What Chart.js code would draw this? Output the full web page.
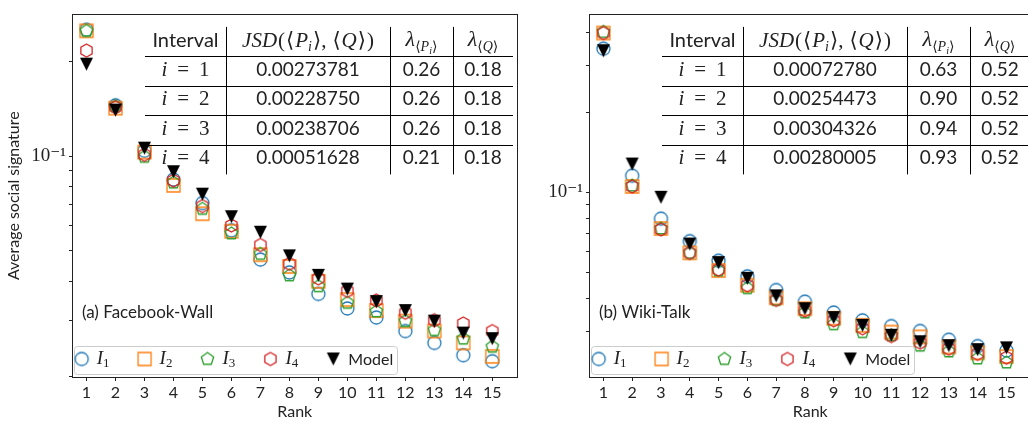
<!DOCTYPE html>
<html><head><meta charset="utf-8">
<script src="https://cdn.jsdelivr.net/npm/chart.js@4/dist/chart.umd.min.js"></script>
<style>
html,body{margin:0;padding:0;background:#fff;overflow:hidden;width:1028px;height:421px;}
#wrap{position:relative;width:1028px;height:421px;overflow:hidden;}
canvas{position:absolute;top:0;}
#c1{left:0;}
#c2{left:520px;}
</style></head><body>
<div id="wrap">
<canvas id="c1" width="525" height="421"></canvas>
<canvas id="c2" width="519" height="421"></canvas>
</div>
<script>
// ---------- data ----------
const ranks = [1,2,3,4,5,6,7,8,9,10,11,12,13,14,15];
const seriesNames = ['I_1','I_2','I_3','I_4','Model'];

// (a) Facebook-Wall
const fbI1    = [0.252,0.145,0.104,0.0842,0.0709,0.0581,0.0469,0.0427,0.0365,0.0328,0.0307,0.0278,0.0255,0.0233,0.0223];
const fbI2    = [0.250,0.142,0.103,0.0807,0.0656,0.0577,0.0486,0.0446,0.0400,0.0350,0.0323,0.0299,0.0278,0.0255,0.0231];
const fbI3    = [0.250,0.144,0.0995,0.0824,0.0680,0.0568,0.0489,0.0418,0.0386,0.0342,0.0321,0.0299,0.0280,0.0263,0.0248];
const fbI4    = [0.2165,0.143,0.101,0.0836,0.0694,0.0602,0.0522,0.0455,0.0409,0.0373,0.0348,0.0318,0.0301,0.0294,0.0278];
const fbModel = [0.196,0.140,0.106,0.0892,0.0757,0.0642,0.0573,0.0482,0.0418,0.0378,0.0345,0.0323,0.0299,0.0274,0.0263];

// (b) Wiki-Talk
const wkI1    = [0.347,0.1155,0.0796,0.0655,0.0553,0.0483,0.0429,0.0388,0.0353,0.0330,0.0314,0.0301,0.0279,0.0264,0.0254];
const wkI2    = [0.3975,0.1052,0.0731,0.0592,0.0508,0.0447,0.0401,0.0365,0.0336,0.0316,0.0298,0.0286,0.0262,0.0249,0.0241];
const wkI3    = [0.401,0.106,0.0731,0.0592,0.0508,0.0436,0.0394,0.0353,0.0319,0.0298,0.0290,0.0265,0.0252,0.0237,0.0229];
const wkI4    = [0.3975,0.1052,0.0725,0.0592,0.0512,0.0447,0.0394,0.0359,0.0330,0.0308,0.0288,0.0272,0.0258,0.0247,0.0239];
const wkModel = [0.341,0.1278,0.0958,0.0639,0.0544,0.0475,0.0408,0.0365,0.0338,0.0316,0.0290,0.0274,0.0265,0.0256,0.0260];

// tables
const intervals = [1,2,3,4];
const fbJSD     = ['0.00273781','0.00228750','0.00238706','0.00051628'];
const fbLambdaP = ['0.26','0.26','0.26','0.21'];
const fbLambdaQ = ['0.18','0.18','0.18','0.18'];
const wkJSD     = ['0.00072780','0.00254473','0.00304326','0.00280005'];
const wkLambdaP = ['0.63','0.90','0.94','0.93'];
const wkLambdaQ = ['0.52','0.52','0.52','0.52'];

// ticks
const xTicks   = [1,2,3,4,5,6,7,8,9,10,11,12,13,14,15];
const fbYTicks = [0.02,0.03,0.04,0.05,0.06,0.07,0.08,0.09,0.1,0.2];
const wkYTicks = [0.03,0.04,0.05,0.06,0.07,0.08,0.09,0.1,0.2,0.3,0.4];
const yLabelled = {0.1: '10\u207B\u00B9'};

// ---------- styles ----------
const SANS  = 'Lato, "Open Sans", sans-serif';
const SERIF = '"Liberation Serif", "DejaVu Serif", serif';
const INK = '#222';
const markerKinds  = ['circle','square','pent','hex','tri'];
const markerColors = ['#1f77b4','#ff7f0e','#2ca02c','#d62728','#000000'];

function makeMarker(kind, color) {
  const S = 17, c = document.createElement('canvas');
  c.width = S; c.height = S;
  const g = c.getContext('2d');
  const r = 6.5, cx = S/2, cy = S/2;
  g.lineWidth = 1.3; g.strokeStyle = color; g.fillStyle = color;
  g.beginPath();
  if (kind === 'circle') g.arc(cx, cy, r, 0, Math.PI*2);
  else if (kind === 'square') g.rect(cx-r, cy-r, 2*r, 2*r);
  else if (kind === 'tri') { g.moveTo(cx, cy+r); g.lineTo(cx-r, cy-r); g.lineTo(cx+r, cy-r); g.closePath(); }
  else {
    const n = kind === 'pent' ? 5 : 6;
    for (let i = 0; i < n; i++) {
      const ang = -Math.PI/2 + i*2*Math.PI/n;
      const px = cx + r*Math.cos(ang), py = cy + r*Math.sin(ang);
      if (i === 0) g.moveTo(px, py); else g.lineTo(px, py);
    }
    g.closePath();
  }
  if (kind === 'tri') g.fill(); else g.stroke();
  return c;
}
const markerImgs = markerKinds.map((k,i) => makeMarker(k, markerColors[i]));

// ---------- drawing helpers ----------
function drawSegs(ctx, segs, x0, base, align) {
  let w = 0;
  segs.forEach(s => {
    if (s.gap !== undefined) { s.w = s.gap; }
    else { ctx.font = s.f; s.w = ctx.measureText(s.t).width; }
    w += s.w;
  });
  let x = align === 'center' ? x0 - w/2 : x0;
  ctx.textAlign = 'left'; ctx.textBaseline = 'alphabetic';
  segs.forEach(s => {
    if (s.t !== undefined) { ctx.font = s.f; ctx.fillText(s.t, x, base + (s.dy || 0)); }
    x += s.w;
  });
}
const M = 21;
const rm = (t, size=M, dy=0) => ({t, f: `${size}px ${SERIF}`, dy});
const it = (t, size=M, dy=0) => ({t, f: `italic ${size}px ${SERIF}`, dy});
const gap = g => ({gap: g});

function hline(ctx, x1, x2, y) { y = Math.round(y) + 0.5; ctx.beginPath(); ctx.moveTo(x1, y); ctx.lineTo(x2, y); ctx.stroke(); }
function vline(ctx, x, y1, y2) { x = Math.round(x) + 0.5; ctx.beginPath(); ctx.moveTo(x, y1); ctx.lineTo(x, y2); ctx.stroke(); }

function drawTable(ctx, a, t) {
  const L = a.left, T = a.top;
  const colX = [73, 154, 318, 381, 441].map(v => L + v);
  const hY = [42, 71.5, 101, 130.5].map(v => T + v);
  ctx.strokeStyle = '#000'; ctx.lineWidth = 1;
  hY.forEach(y => hline(ctx, colX[0], colX[4], y));
  [1,2,3].forEach(i => vline(ctx, colX[i], T + 12.5, T + 160));
  const cen = [0,1,2,3].map(i => (colX[i] + colX[i+1]) / 2);
  ctx.fillStyle = INK;
  const hb = hY[0] - 9.5;
  drawSegs(ctx, [{t:'Interval', f:`20px ${SANS}`}], cen[0], hb, 'center');
  drawSegs(ctx, [it('JSD'), gap(1), rm('('), gap(1), rm('\u27E8'), gap(1), it('P'), it('i',14,4), gap(1), rm('\u27E9'), rm(','), gap(6), rm('\u27E8'), gap(1), it('Q'), gap(1), rm('\u27E9'), gap(1), rm(')')], cen[1], hb, 'center');
  drawSegs(ctx, [it('\u03BB', 22), rm('\u27E8',14,5), it('P',14,5), it('i',10,8), rm('\u27E9',14,5)], cen[2], hb - 1, 'center');
  drawSegs(ctx, [it('\u03BB', 22), rm('\u27E8',14,5), it('Q',14,5), rm('\u27E9',14,5)], cen[3], hb - 1, 'center');
  t.intervals.forEach((iv, r) => {
    const b = hY[r] + 19.5;
    drawSegs(ctx, [it('i'), gap(10), rm('='), gap(10), rm(String(iv))], cen[0], b, 'center');
    drawSegs(ctx, [{t: t.jsd[r], f:`19px ${SANS}`}], cen[1], b, 'center');
    drawSegs(ctx, [{t: t.lp[r], f:`19px ${SANS}`}], cen[2], b, 'center');
    drawSegs(ctx, [{t: t.lq[r], f:`19px ${SANS}`}], cen[3], b, 'center');
  });
}

function drawLegend(ctx, a, chart) {
  const bx = a.left + 2, by = a.bottom - 31, bw = 323, bh = 28;
  ctx.fillStyle = 'rgba(255,255,255,0.8)'; ctx.strokeStyle = '#cccccc'; ctx.lineWidth = 1;
  ctx.beginPath(); ctx.roundRect(bx + 0.5, by + 0.5, bw, bh, 3); ctx.fill(); ctx.stroke();
  ctx.fillStyle = INK;
  chart.data.datasets.forEach((ds, k) => {
    const mx = bx + 7.7 + k * 62.9, my = by + 13;
    const img = ds.pointStyle;
    ctx.drawImage(img, mx - img.width/2, my - img.height/2);
    const m = /^([A-Za-z])_(\d)$/.exec(ds.label);
    if (m) drawSegs(ctx, [it(m[1],19,0), rm(m[2],13,3)], mx + 15, my + 5, 'left');
    else drawSegs(ctx, [{t: ds.label, f:`16px ${SANS}`}], mx + 15, my + 6, 'left');
  });
}

const deco = {
  id: 'deco',
  afterDatasetsDraw(chart, args, opts) {
    const ctx = chart.ctx, a = chart.chartArea;
    ctx.save();
    ctx.fillStyle = INK;
    drawSegs(ctx, [{t: opts.label, f:`17px ${SANS}`}], a.left + 10, a.bottom - 59, 'left');
    drawTable(ctx, a, opts.table);
    drawLegend(ctx, a, chart);
    ctx.restore();
  }
};

function makeChart(canvasId, series, yTicks, yMin, yMax, yWidth, padRight, yTitle, label, table) {
  const datasets = series.map((vals, i) => ({
    label: seriesNames[i],
    data: ranks.map((r, j) => ({x: r, y: vals[j]})),
    pointStyle: markerImgs[i],
    pointRadius: 6.5,
    order: series.length - i,
    showLine: false
  }));
  const spine = {display: true, color: INK, width: 1};
  return new Chart(document.getElementById(canvasId), {
    type: 'scatter',
    data: {datasets},
    plugins: [deco],
    options: {
      responsive: false, animation: false, events: [],
      layout: {padding: {top: 6, right: padRight, left: 0, bottom: 0}},
      plugins: {legend: {display: false}, tooltip: {enabled: false}, deco: {label, table}},
      scales: {
        x: {
          type: 'linear', position: 'bottom', min: 0.5, max: 15.87,
          afterBuildTicks: s => { s.ticks = xTicks.map(v => ({value: v})); },
          afterFit: s => { s.height = 44; },
          grid: {drawOnChartArea: false, drawTicks: true, tickLength: 4, color: INK},
          border: spine,
          ticks: {autoSkip: false, maxRotation: 0, padding: 2, color: INK, font: {family: SANS, size: 16}, callback: v => String(v)},
          title: {display: true, text: 'Rank', color: INK, font: {family: SANS, size: 16}, padding: {top: 0, bottom: 0}}
        },
        xTop: {
          type: 'linear', position: 'top', min: 0.5, max: 15.87,
          afterBuildTicks: s => { s.ticks = []; },
          afterFit: s => { s.height = 0; },
          grid: {drawOnChartArea: false, drawTicks: false},
          border: spine, ticks: {display: false}
        },
        y: {
          type: 'logarithmic', position: 'left', min: yMin, max: yMax,
          afterBuildTicks: s => { s.ticks = yTicks.map(v => ({value: v})); },
          afterFit: s => { s.width = yWidth; },
          grid: {drawOnChartArea: false, drawTicks: true, tickLength: 3, color: INK},
          border: spine,
          ticks: {autoSkip: false, padding: 3, color: INK, font: {family: SERIF, size: 19},
                  callback: v => (yLabelled[v] || '')},
          title: {display: !!yTitle, text: yTitle || '', color: INK, font: {family: SANS, size: 16}, padding: {top: 4, bottom: 0}}
        },
        yRight: {
          type: 'logarithmic', position: 'right', min: yMin, max: yMax,
          afterBuildTicks: s => { s.ticks = []; },
          afterFit: s => { s.width = 0; },
          grid: {drawOnChartArea: false, drawTicks: false},
          border: spine, ticks: {display: false}
        }
      }
    }
  });
}

makeChart('c1', [fbI1, fbI2, fbI3, fbI4, fbModel], fbYTicks, 0.01987, 0.282, 72, 6,
  'Average social signature', '(a) Facebook-Wall',
  {intervals, jsd: fbJSD, lp: fbLambdaP, lq: fbLambdaQ});
makeChart('c2', [wkI1, wkI2, wkI3, wkI4, wkModel], wkYTicks, 0.0202, 0.467, 69, 0,
  '', '(b) Wiki-Talk',
  {intervals, jsd: wkJSD, lp: wkLambdaP, lq: wkLambdaQ});
</script>
</body></html>
